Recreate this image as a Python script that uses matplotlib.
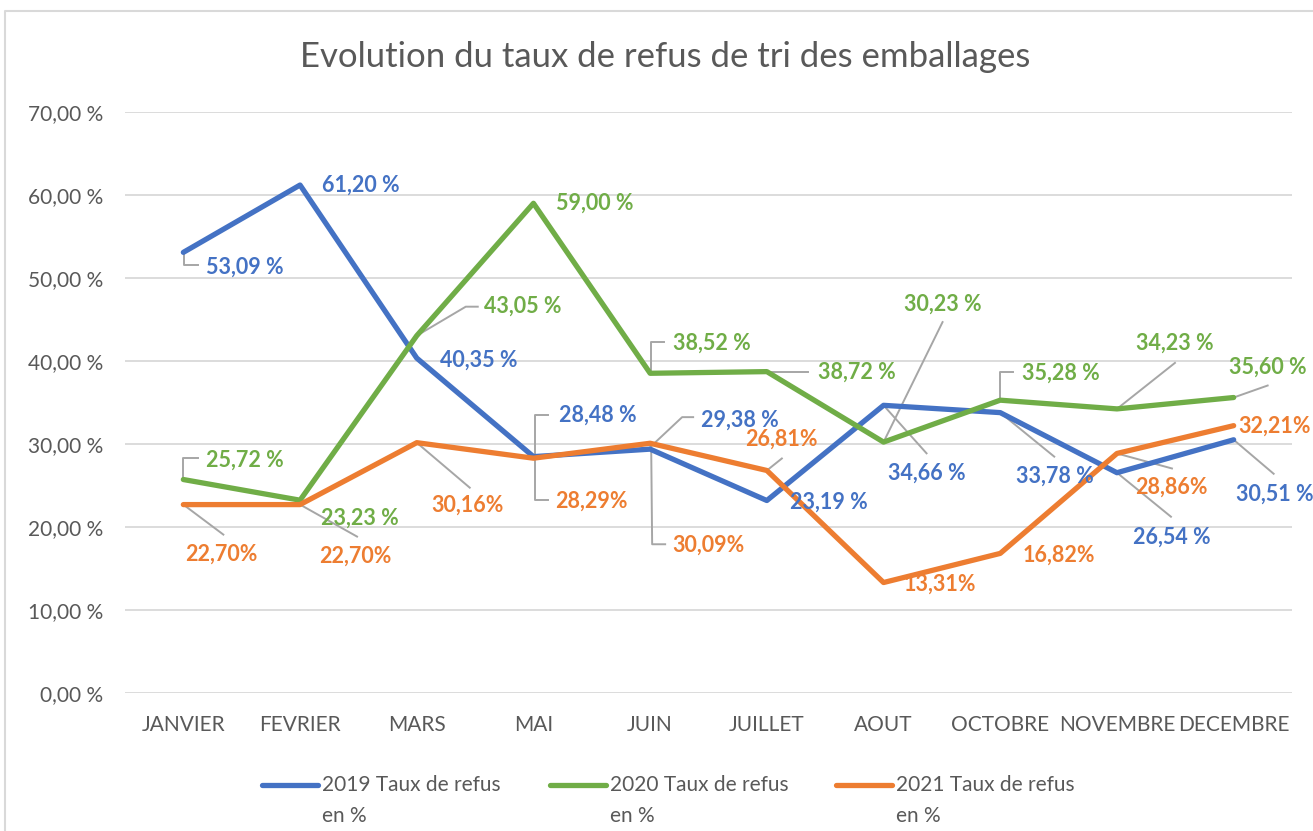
import numpy as np
import matplotlib
matplotlib.use("Agg")
from matplotlib import pyplot as plt
from matplotlib.lines import Line2D

plt.rcParams['font.family'] = ['Lato', 'DejaVu Sans']

# data
mois = ["JANVIER", "FEVRIER", "MARS", "MAI", "JUIN", "JUILLET", "AOUT", "OCTOBRE", "NOVEMBRE", "DECEMBRE"]
taux_2019 = [53.09, 61.20, 40.35, 28.48, 29.38, 23.19, 34.66, 33.78, 26.54, 30.51]
taux_2020 = [25.72, 23.23, 43.05, 59.00, 38.52, 38.72, 30.23, 35.28, 34.23, 35.60]
taux_2021 = [22.70, 22.70, 30.16, 28.29, 30.09, 26.81, 13.31, 16.82, 28.86, 32.21]
noms = ["2019 Taux de refus\nen %", "2020 Taux de refus\nen %", "2021 Taux de refus\nen %"]
y_ticks = [0, 10, 20, 30, 40, 50, 60, 70]

colors = ["#4472C4", "#70AD47", "#ED7D31"]
grey_txt = "#595959"
lead_col = "#A6A6A6"

# label offsets in image pixels (dx right, dy down) from the point
off_2019 = [(23, 15), (22, 0), (23, 2), (26, -41), (51, -29), (23, 2), (4, 68), (16, 64), (16, 64), (2, 54)]
off_2020 = [(23, -19), (21, 18), (67, -29), (23, 0), (23, -30), (51, 1), (20, -138), (22, -27), (19, -66), (-5, -30)]
off_2021 = [(2, 50), (19, 52), (15, 63), (22, 43), (22, 102), (-22, -31), (20, 2), (22, 2), (18, 34), (5, 1)]

lead_2019 = {0: [(1, 0), (1, 13), (15, 13)], 3: [(2, 0), (2, -42), (15, -42)],
             4: [(0, -2), (32, -32), (43, -32)], 6: [(0, 0), (43, 48)],
             7: [(0, 0), (54, 44)], 8: [(0, 0), (54, 44)], 9: [(0, 0), (40, 34)]}
lead_2020 = {0: [(0, 0), (0, -22), (15, -22)], 2: [(0, 0), (49, -29), (61, -29)],
             4: [(1, 0), (1, -31), (14, -31)], 5: [(0, 0), (41, 0)],
             6: [(0, 0), (59, -120)], 7: [(0, 0), (0, -28), (13, -28)],
             8: [(0, 0), (58, -46)], 9: [(0, 0), (34, -12)]}
lead_2021 = {0: [(0, 0), (40, 30)], 1: [(0, 0), (57, 32)], 2: [(0, 0), (53, 45)],
             3: [(2, 0), (2, 42), (15, 42)], 4: [(1, 0), (2, 101), (15, 101)],
             5: [(0, 0), (15, -12)], 8: [(0, 0), (55, 15)]}


def fmt_space(v):
    return f"{v:.2f}".replace(".", ",") + " %"


def fmt_nospace(v):
    return f"{v:.2f}".replace(".", ",") + "%"


W, H = 1313, 831
fig = plt.figure(figsize=(W / 100, H / 100), dpi=100)
ax = fig.add_axes([125 / W, 1 - 693 / H, 1167 / W, 581 / H])

x = np.arange(len(mois))
series = [taux_2019, taux_2020, taux_2021]
for vals, c in zip(series, colors):
    ax.plot(x, vals, color=c, lw=3.8, solid_joinstyle='round', solid_capstyle='round', zorder=3)

ax.set_xlim(-0.5, len(mois) - 0.5)
ax.set_ylim(0, 70)
ax.set_yticks(y_ticks)
ax.set_yticklabels([f"{t:.2f}".replace(".", ",") + " %" for t in y_ticks])
ax.set_xticks(x)
ax.set_xticklabels(mois)
ax.tick_params(length=0, labelsize=15, labelcolor=grey_txt)
ax.tick_params(axis='y', pad=16)
ax.tick_params(axis='x', pad=16)
ax.grid(axis='y', color='#D9D9D9', lw=1.3)
ax.set_axisbelow(True)
for s in ax.spines.values():
    s.set_visible(False)

fig.canvas.draw()


def pix_to_data(px, py):
    return ax.transData.inverted().transform((px, H - py))


for vals, c, offs, leads, f in zip(series, colors, [off_2019, off_2020, off_2021],
                                    [lead_2019, lead_2020, lead_2021],
                                    [fmt_space, fmt_space, fmt_nospace]):
    for i, v in enumerate(vals):
        px, py = ax.transData.transform((i, v))
        py = H - py
        if i in leads:
            pts = np.array([pix_to_data(px + dx, py + dy) for dx, dy in leads[i]])
            ax.plot(pts[:, 0], pts[:, 1], color=lead_col, lw=1.4, zorder=2, clip_on=False)
        dx, dy = offs[i]
        ax.annotate(f(v), xy=(i, v), xytext=(dx, -dy), textcoords='offset pixels',
                    ha='left', va='center', fontsize=15.5, fontweight='bold', color=c, zorder=4)

fig.suptitle("Evolution du taux de refus de tri des emballages", x=665 / W, y=1 - 57 / H,
             va='center', fontsize=25, color=grey_txt)

# legend
leg_x = [262, 550, 836]
for lx, c, n in zip(leg_x, colors, noms):
    fig.add_artist(Line2D([lx / W, (lx + 56) / W], [1 - 785 / H, 1 - 785 / H], color=c, lw=3.8,
                          solid_capstyle='round'))
    fig.text((lx + 60) / W, 1 - 775 / H, n, ha='left', va='top', fontsize=15, color=grey_txt,
             linespacing=1.7)

# outer frame
fig.add_artist(Line2D([5 / W, 5 / W, 1.0], [0, 1 - 11 / H, 1 - 11 / H], color='#D9D9D9', lw=1.5))

fig.savefig("out.png", dpi=100)
